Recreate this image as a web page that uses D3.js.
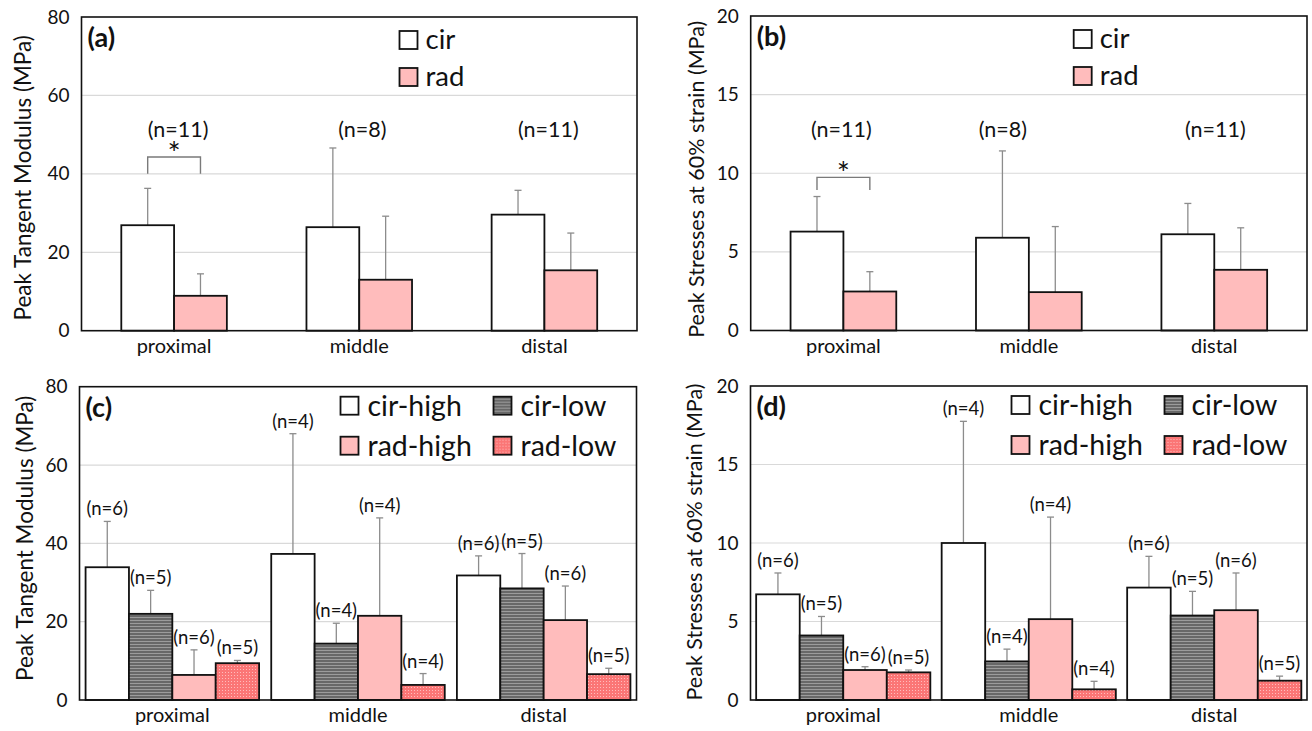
<!DOCTYPE html>
<html><head><meta charset="utf-8">
<script src="https://cdn.jsdelivr.net/npm/d3@7"></script>
<style>
body{margin:0;background:#fff;}
svg{display:block;font-family:Lato, "Open Sans", sans-serif;}
</style>
</head><body>
<svg id="chart" width="1312" height="731"></svg>
<script>
// ---------------- DATA ----------------
const categories = ["proximal", "middle", "distal"];
const seriesTwo = ["cir", "rad"];
const seriesFour = ["cir-high", "cir-low", "rad-high", "rad-low"];
const yTicksModulus = [0, 20, 40, 60, 80];
const yTicksStress = [0, 5, 10, 15, 20];
const labelModulus = "Peak Tangent Modulus (MPa)";
const labelStress = "Peak Stresses at 60% strain (MPa)";

// (a) peak tangent modulus, cir vs rad
const aCirMean = [26.9, 26.4, 29.6];
const aCirSD   = [9.4, 20.2, 6.2];
const aRadMean = [8.9, 13.0, 15.4];
const aRadSD   = [5.6, 16.2, 9.5];
// (b) peak stress at 60% strain, cir vs rad
const bCirMean = [6.29, 5.9, 6.12];
const bCirSD   = [2.23, 5.52, 1.96];
const bRadMean = [2.48, 2.44, 3.86];
const bRadSD   = [1.26, 4.17, 2.67];
const abN = [11, 8, 11];

// (c) peak tangent modulus, high/low groups
const cCirHighMean = [33.9, 37.3, 31.8];
const cCirHighSD   = [11.7, 30.7, 5.0];
const cCirLowMean  = [22.0, 14.4, 28.5];
const cCirLowSD    = [6.0, 5.2, 8.9];
const cRadHighMean = [6.4, 21.5, 20.4];
const cRadHighSD   = [6.4, 25.0, 8.7];
const cRadLowMean  = [9.4, 3.85, 6.6];
const cRadLowSD    = [0.7, 2.9, 1.5];
// (d) peak stress at 60% strain, high/low groups
const dCirHighMean = [6.73, 10.0, 7.16];
const dCirHighSD   = [1.36, 7.75, 1.99];
const dCirLowMean  = [4.11, 2.46, 5.38];
const dCirLowSD    = [1.21, 0.78, 1.54];
const dRadHighMean = [1.91, 5.15, 5.72];
const dRadHighSD   = [0.21, 6.5, 2.37];
const dRadLowMean  = [1.76, 0.68, 1.23];
const dRadLowSD    = [0.15, 0.51, 0.29];
const cirHighN = [6, 4, 6];
const cirLowN  = [5, 4, 5];
const radHighN = [6, 4, 6];
const radLowN  = [5, 4, 5];

// ---------------- STYLE / LAYOUT ----------------
const fills = {
  "cir": "#ffffff", "rad": "#ffbcbc",
  "cir-high": "#ffffff", "cir-low": "url(#pCirLow)",
  "rad-high": "#ffbcbc", "rad-low": "url(#pRadLow)"
};
const errColor = "#8c8c8c";

const svg = d3.select("#chart");
const defs = svg.append("defs");
const p1 = defs.append("pattern").attr("id", "pCirLow").attr("width", 4).attr("height", 3)
  .attr("patternUnits", "userSpaceOnUse");
p1.append("rect").attr("width", 4).attr("height", 3).attr("fill", "#686868");
p1.append("rect").attr("y", 2).attr("width", 4).attr("height", 1).attr("fill", "#9c9c9c");
const p2 = defs.append("pattern").attr("id", "pRadLow").attr("width", 3).attr("height", 3)
  .attr("patternUnits", "userSpaceOnUse");
p2.append("rect").attr("width", 3).attr("height", 3).attr("fill", "#fb7676");
p2.append("rect").attr("width", 1).attr("height", 1).attr("fill", "#ffbcbc");

const panels = [
  { key: "(a)", series: seriesTwo, means: [aCirMean, aRadMean], sds: [aCirSD, aRadSD],
    groupN: abN, nDx: [4, 3, 4], x0: 81.5, x1: 637, yTop: 17, yBot: 330.7, max: 80,
    ticks: yTicksModulus, ylab: labelModulus, ylabX: 22, ylabSize: 22.5, ylabDy: 4, pad: 0.754,
    bracket: { top: 44.3, leg: 40.0 }, legendDx: 318 },
  { key: "(b)", series: seriesTwo, means: [bCirMean, bRadMean], sds: [bCirSD, bRadSD],
    groupN: abN, nDx: [-2, -26, 1], x0: 750.7, x1: 1307, yTop: 16, yBot: 330.5, max: 20,
    ticks: yTicksStress, ylab: labelStress, ylabX: 696, ylabSize: 21.5, ylabDy: 6, pad: 0.754,
    bracket: { top: 9.74, leg: 8.93 }, legendDx: 323 },
  { key: "(c)", series: seriesFour,
    means: [cCirHighMean, cCirLowMean, cRadHighMean, cRadLowMean],
    sds: [cCirHighSD, cCirLowSD, cRadHighSD, cRadLowSD],
    barN: [cirHighN, cirLowN, radHighN, radLowN],
    x0: 79.5, x1: 636.5, yTop: 386.7, yBot: 700, max: 80,
    ticks: yTicksModulus, ylab: labelModulus, ylabX: 24, ylabSize: 22.5, ylabDy: -5, pad: 0.14 },
  { key: "(d)", series: seriesFour,
    means: [dCirHighMean, dCirLowMean, dRadHighMean, dRadLowMean],
    sds: [dCirHighSD, dCirLowSD, dRadHighSD, dRadLowSD],
    barN: [cirHighN, cirLowN, radHighN, radLowN],
    x0: 750.5, x1: 1307, yTop: 386, yBot: 700, max: 20,
    ticks: yTicksStress, ylab: labelStress, ylabX: 694, ylabSize: 21.5, ylabDy: -1, pad: 0.13 }
];

panels.forEach(P => {
  const g = svg.append("g");
  const x = d3.scaleBand().domain(categories).range([P.x0, P.x1]).paddingInner(0).paddingOuter(0);
  const xs = d3.scaleBand().domain(P.series).range([0, x.bandwidth()]).paddingInner(0).paddingOuter(P.pad);
  const y = d3.scaleLinear().domain([0, P.max]).range([P.yBot, P.yTop]);

  // gridlines
  g.append("g").selectAll("line").data(P.ticks.filter(t => t > 0 && t < P.max)).join("line")
    .attr("x1", P.x0).attr("x2", P.x1).attr("y1", d => y(d)).attr("y2", d => y(d))
    .attr("stroke", "#d9d9d9").attr("stroke-width", 1.2);

  // y axis tick labels
  const yAxis = d3.axisLeft(y).tickValues(P.ticks).tickSize(0).tickPadding(12);
  const ax = g.append("g").attr("transform", `translate(${P.x0},0)`).call(yAxis);
  ax.select(".domain").remove();
  ax.selectAll("text").attr("font-family", "Lato").attr("font-size", 19).attr("fill", "#111");

  // x axis labels
  const xAxis = d3.axisBottom(x).tickSize(0).tickPadding(8);
  const bx = g.append("g").attr("transform", `translate(0,${P.yBot})`).call(xAxis);
  bx.select(".domain").remove();
  bx.selectAll("text").attr("font-family", "Lato").attr("font-size", 20).attr("fill", "#111");

  // y label
  g.append("text").attr("transform", `translate(${P.ylabX},${(P.yTop + P.yBot) / 2 + P.ylabDy}) rotate(-90)`)
    .attr("text-anchor", "middle").attr("dominant-baseline", "central")
    .attr("font-size", P.ylabSize).attr("fill", "#111").text(P.ylab);

  // bars and error bars
  const flat = [];
  P.series.forEach((s, si) => {
    categories.forEach((c, ci) => {
      flat.push({ s, si, c, ci, m: P.means[si][ci], sd: P.sds[si][ci],
        n: P.barN ? P.barN[si][ci] : null });
    });
  });
  const bw = xs.bandwidth();
  const cx = d => x(d.c) + xs(d.s) + bw / 2;

  g.append("g").selectAll("line").data(flat).join("line")
    .attr("x1", cx).attr("x2", cx).attr("y1", d => y(d.m)).attr("y2", d => y(d.m + d.sd))
    .attr("stroke", errColor).attr("stroke-width", 1.3);
  g.append("g").selectAll("line").data(flat).join("line")
    .attr("x1", d => cx(d) - 3.5).attr("x2", d => cx(d) + 3.5)
    .attr("y1", d => y(d.m + d.sd)).attr("y2", d => y(d.m + d.sd))
    .attr("stroke", errColor).attr("stroke-width", 1.3);

  g.append("g").selectAll("rect").data(flat).join("rect")
    .attr("x", d => x(d.c) + xs(d.s)).attr("width", bw)
    .attr("y", d => y(d.m)).attr("height", d => y(0) - y(d.m))
    .attr("fill", d => fills[d.s]).attr("stroke", "#111").attr("stroke-width", 1.8);

  // n labels
  if (P.barN) {
    g.append("g").selectAll("text").data(flat).join("text")
      .attr("x", cx).attr("y", d => y(d.m + d.sd) - 6)
      .attr("text-anchor", "middle").attr("font-size", 18.5).attr("fill", "#111")
      .text(d => `(n=${d.n})`);
  } else {
    g.append("g").selectAll("text").data(categories).join("text")
      .attr("x", (c, i) => x(c) + x.bandwidth() / 2 + P.nDx[i]).attr("y", 137)
      .attr("text-anchor", "middle").attr("font-size", 21.5).attr("fill", "#111")
      .text((c, i) => `(n=${P.groupN[i]})`);
  }

  // significance bracket
  if (P.bracket) {
    const c0 = categories[0];
    const xa = x(c0) + xs(P.series[0]) + bw / 2;
    const xb = x(c0) + xs(P.series[1]) + bw / 2;
    const yt = y(P.bracket.top), yl = y(P.bracket.leg);
    g.append("path").attr("d", `M${xa},${yl}V${yt}H${xb}V${yl}`)
      .attr("fill", "none").attr("stroke", "#7a7a7a").attr("stroke-width", 1.4);
    g.append("text").attr("x", (xa + xb) / 2).attr("y", yt + 7)
      .attr("text-anchor", "middle").attr("font-size", 31).attr("fill", "#111").text("*");
  }

  // frame
  g.append("rect").attr("x", P.x0).attr("y", P.yTop).attr("width", P.x1 - P.x0)
    .attr("height", P.yBot - P.yTop).attr("fill", "none").attr("stroke", "#111").attr("stroke-width", 1.6);

  // panel letter
  g.append("text").attr("x", P.x0 + 6).attr("y", P.yTop + 30)
    .attr("font-size", 27).attr("font-weight", "bold").attr("fill", "#111").text(P.key);

  // legend
  if (P.series.length === 2) {
    const lg = g.append("g").selectAll("g").data(P.series).join("g")
      .attr("transform", (s, i) => `translate(${P.x0 + P.legendDx},${P.yTop + 14 + i * 37})`);
    lg.append("rect").attr("width", 18).attr("height", 18).attr("fill", s => fills[s])
      .attr("stroke", "#111").attr("stroke-width", 1.8);
    lg.append("text").attr("x", 26).attr("y", 18).attr("font-size", 27.5).attr("fill", "#111").text(s => s);
  } else {
    const lg = g.append("g").selectAll("g").data(P.series).join("g")
      .attr("transform", (s, i) => `translate(${P.x0 + (i % 2 ? 414 : 261)},${P.yTop + 10 + Math.floor(i / 2) * 40})`);
    lg.append("rect").attr("width", 18).attr("height", 18).attr("fill", s => fills[s])
      .attr("stroke", "#111").attr("stroke-width", 1.8);
    lg.append("text").attr("x", 27).attr("y", 19).attr("font-size", 28.5).attr("fill", "#111").text(s => s);
  }
});
</script>
</body></html>
